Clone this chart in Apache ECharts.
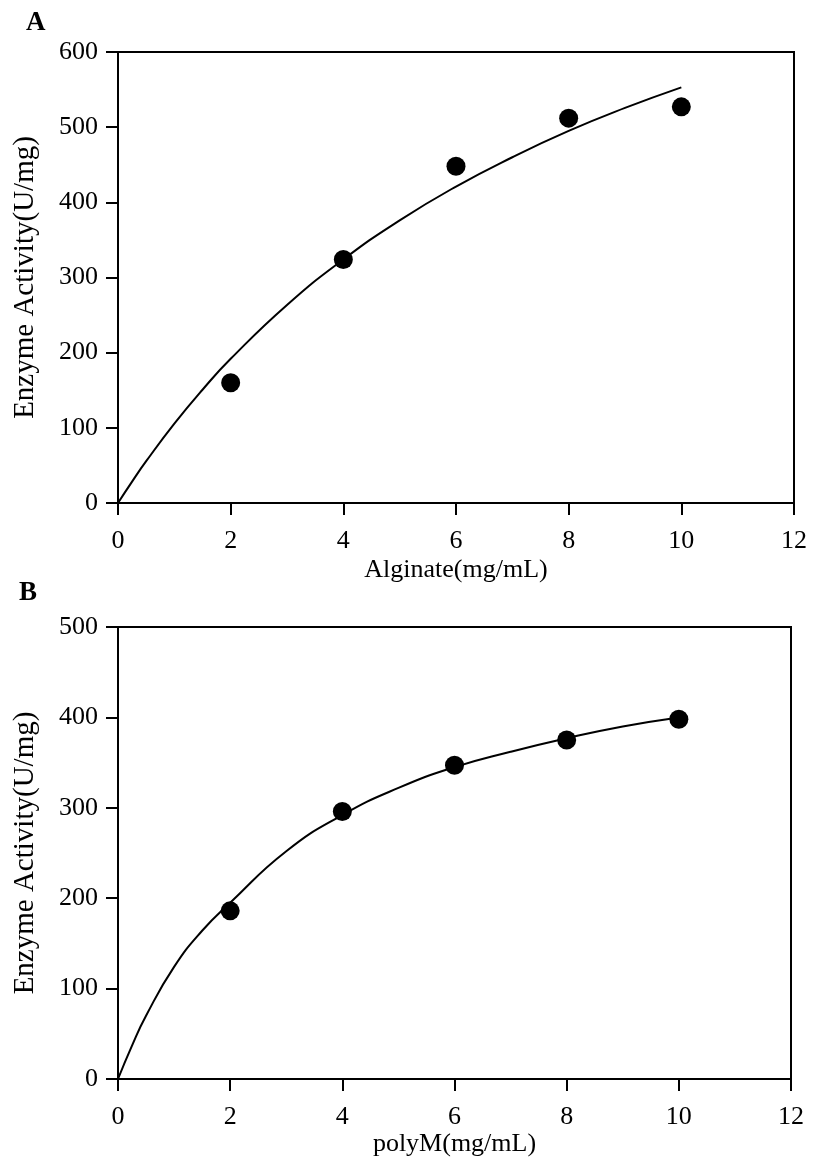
<!DOCTYPE html>
<html>
<head>
<meta charset="utf-8">
<script src="https://cdn.jsdelivr.net/npm/echarts@6/dist/echarts.min.js"></script>
<style>
  html, body { margin: 0; padding: 0; background: #fff; }
  #chart { width: 813px; height: 1162px; }
</style>
</head>
<body>
<div id="chart"></div>
<script>
// measured points
var substrate = [2, 4, 6, 8, 10];
var activityA = [160, 324, 448, 512, 527];
var activityB = [186, 296, 347, 375, 398];

// fitted curves
var fitX = [0, 0.25, 0.5, 1, 1.5, 2, 3, 4, 5, 6, 7, 8, 9, 10];
var fitA = [0, 28.5, 55.6, 105.6, 150.7, 191.8, 263.5, 324, 376, 421, 460, 495, 525.6, 553];
var fitB = [0, 37, 70, 124, 164, 195, 252, 292, 322, 345, 362, 377, 390, 400];

var xNames = ['Alginate(mg/mL)', 'polyM(mg/mL)'];
var yName = 'Enzyme Activity(U/mg)';

function pairs(xs, ys){
    return xs.map(function(x, i){ return [x, ys[i]]; });
}

var font = 'Liberation Serif';
var axisLine = {show: true, lineStyle: {color: '#000', width: 2}};
var axisTick = {show: true, inside: false, length: 12, lineStyle: {color: '#000', width: 2}};

function xAxis(idx, gap){
    return {
        type: 'value', gridIndex: idx, min: 0, max: 12, interval: 2,
        name: xNames[idx], nameLocation: 'middle', nameGap: gap,
        nameTextStyle: {fontFamily: font, fontSize: 26, color: '#000'},
        axisLine: axisLine, axisTick: axisTick,
        axisLabel: {fontFamily: font, fontSize: 26, color: '#000', margin: 25},
        splitLine: {show: false}
    };
}
function yAxis(idx, max){
    return {
        type: 'value', gridIndex: idx, min: 0, max: max, interval: 100,
        name: yName, nameLocation: 'middle', nameGap: 78,
        nameTextStyle: {fontFamily: font, fontSize: 29, color: '#000'},
        axisLine: axisLine, axisTick: axisTick,
        axisLabel: {fontFamily: font, fontSize: 26, color: '#000', margin: 20},
        splitLine: {show: false}
    };
}

var option = {
    backgroundColor: '#fff',
    animation: false,
    title: [
        {text: 'A', left: 21, top: 5, textStyle: {fontFamily: font, fontSize: 27, fontWeight: 'bold', color: '#000'}},
        {text: 'B', left: 14, top: 575, textStyle: {fontFamily: font, fontSize: 27, fontWeight: 'bold', color: '#000'}}
    ],
    grid: [
        {left: 118, top: 52, width: 676, height: 451, show: true, borderColor: '#000', borderWidth: 2},
        {left: 118, top: 627, width: 673, height: 452, show: true, borderColor: '#000', borderWidth: 2}
    ],
    xAxis: [xAxis(0, 54), xAxis(1, 52)],
    yAxis: [yAxis(0, 600), yAxis(1, 500)],
    series: [
        {type: 'line', xAxisIndex: 0, yAxisIndex: 0, data: pairs(fitX, fitA), smooth: true,
         showSymbol: false, lineStyle: {color: '#000', width: 2}},
        {type: 'scatter', xAxisIndex: 0, yAxisIndex: 0, data: pairs(substrate, activityA),
         symbolSize: 19, itemStyle: {color: '#000', opacity: 1}},
        {type: 'line', xAxisIndex: 1, yAxisIndex: 1, data: pairs(fitX, fitB), smooth: true,
         showSymbol: false, lineStyle: {color: '#000', width: 2}},
        {type: 'scatter', xAxisIndex: 1, yAxisIndex: 1, data: pairs(substrate, activityB),
         symbolSize: 19, itemStyle: {color: '#000', opacity: 1}}
    ]
};

var myChart = echarts.init(document.getElementById('chart'));
myChart.setOption(option);
</script>
</body>
</html>
